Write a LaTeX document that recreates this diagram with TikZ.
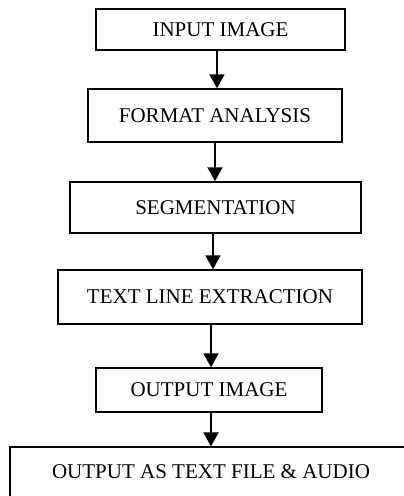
\documentclass[tikz,border=0pt]{standalone}
\usepackage{fontspec}
\setmainfont{Liberation Serif}
\usetikzlibrary{arrows.meta}
\begin{document}
\begin{tikzpicture}[x=1pt,y=-1pt,
  stepbox/.style={draw,line width=1.5pt,inner sep=0pt,anchor=center,
    font=\fontsize{21}{25}\selectfont},
  arr/.style={line width=2pt,-{Triangle[length=14pt,width=15pt]}}]
\useasboundingbox (0,0) rectangle (404,496);
\node[stepbox,minimum width=249pt,minimum height=41pt] (b1) at (220.5,29.5) {INPUT IMAGE};
\node[stepbox,minimum width=254pt,minimum height=53pt] (b2) at (215,115.5) {FORMAT ANALYSIS};
\node[stepbox,minimum width=291pt,minimum height=51pt] (b3) at (215.5,207.5) {SEGMENTATION};
\node[stepbox,minimum width=304pt,minimum height=54pt] (b4) at (210,297) {TEXT LINE EXTRACTION};
\node[stepbox,minimum width=226pt,minimum height=44pt] (b5) at (209,390) {OUTPUT IMAGE};
\node[stepbox,line width=1.3pt,minimum width=402pt,minimum height=50pt] (b6) at (211,472) {OUTPUT AS TEXT FILE \& AUDIO};
\draw[arr] (217,0 |- b1.south) -- (217,0 |- b2.north);
\draw[arr] (215,0 |- b2.south) -- (215,0 |- b3.north);
\draw[arr] (213,0 |- b3.south) -- (213,0 |- b4.north);
\draw[arr] (211,0 |- b4.south) -- (211,0 |- b5.north);
\draw[arr] (211,0 |- b5.south) -- (211,0 |- b6.north);
\end{tikzpicture}
\end{document}
